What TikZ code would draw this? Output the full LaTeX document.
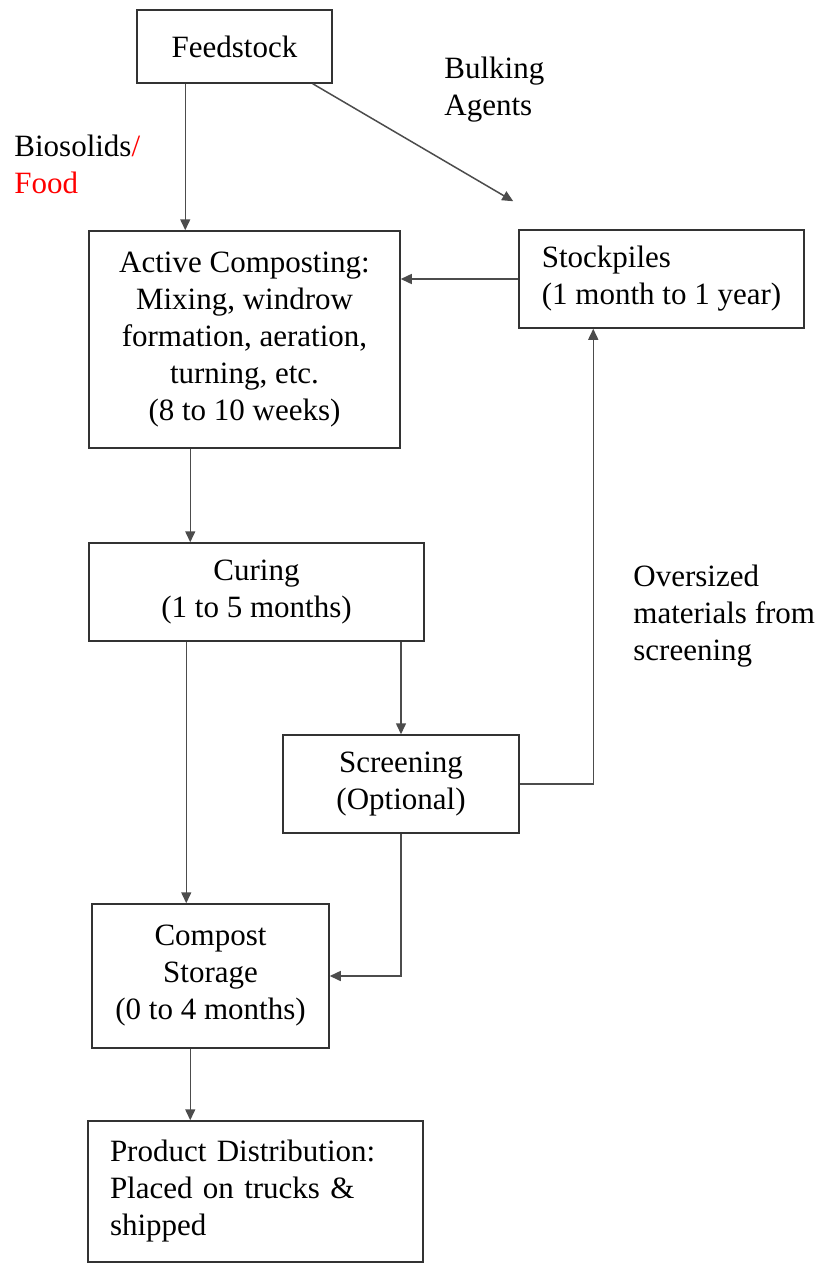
\documentclass[tikz,border=0pt]{standalone}
\usepackage{fontspec}
\setmainfont{Liberation Serif}
\usetikzlibrary{arrows.meta,calc,positioning}

\begin{document}
\begin{tikzpicture}[x=0.5pt,y=-0.5pt,
  box/.style={draw=black!80, line width=0.75pt, inner sep=0pt, align=center,
    font=\fontsize{15.5}{18.5}\selectfont},
  flow/.style={draw=black!70, line width=0.75pt, -{Triangle[length=5.5pt,width=5pt]}},
  lbl/.style={anchor=west, align=left, inner sep=0pt,
    font=\fontsize{15.5}{18.5}\selectfont}]

  % Fixed bounding box
  \path[use as bounding box] (0,0) rectangle (825,1264);

  % Process boxes
  \node[box, minimum width=97.5pt, minimum height=36.5pt] (feed) at (234.5,46.5) {Feedstock};
  \node[box, minimum width=155.5pt, minimum height=108.5pt] (active) at (244.5,339.5)
    {Active Composting:\\Mixing, windrow\\formation, aeration,\\turning, etc.\\(8 to 10 weeks)};
  \node[box, align=left, minimum width=142.5pt, minimum height=49pt] (stock) at (661.5,279)
    {Stockpiles\\(1 month to 1 year)};
  \node[box, minimum width=167.5pt, minimum height=49pt] (curing) at (256.5,592)
    {Curing\\(1 to 5 months)};
  \node[box, minimum width=118pt, minimum height=49pt] (screen) at (401,784)
    {Screening\\(Optional)};
  \node[box, minimum width=118.5pt, minimum height=72pt] (storage) at (210.5,976)
    {Compost\\Storage\\(0 to 4 months)};
  \node[box, align=left, text width=145.5pt, inner xsep=11pt, minimum height=70.5pt] (product) at (255.5,1191.5)
    {Product Distribution:\\Placed on trucks \&\\shipped};

  % Feedstock to composting and to stockpiles
  \draw[flow] ($(feed.south west)+(49,0)$) coordinate (fs) -- (fs |- active.north);
  \coordinate (bulkend) at ($(stock.north west)+(-5,-28)$);
  \draw[flow] ($(feed.south east)+(-20,0)$) -- (bulkend);
  \draw[flow] (stock.west) -- (stock.west -| active.east);

  % Main line and screening loop
  \draw[flow] ($(active.south west)+(102,0)$) coordinate (ac) -- (ac |- curing.north);
  \draw[flow] ($(curing.south west)+(98,0)$) coordinate (cu) -- (cu |- storage.north);
  \draw[flow] (screen.north |- curing.south) -- (screen.north);
  \draw[flow] (screen.south) |- (storage.east);
  \draw[flow] (screen.east) -| ($(stock.south west)+(75,0)$);
  \draw[flow] ($(storage.south west)+(99,0)$) coordinate (st) -- (st |- product.north);

  % Side labels
  \node[lbl] (biosolids) at (14,164) {Biosolids\textcolor{red}{/}\\\textcolor{red}{Food}};
  \node[lbl] (bulking) at (444,90) {Bulking\\Agents};
  \node[lbl] (oversized) at (633,616) {Oversized\\materials from\\screening};

\end{tikzpicture}
\end{document}
